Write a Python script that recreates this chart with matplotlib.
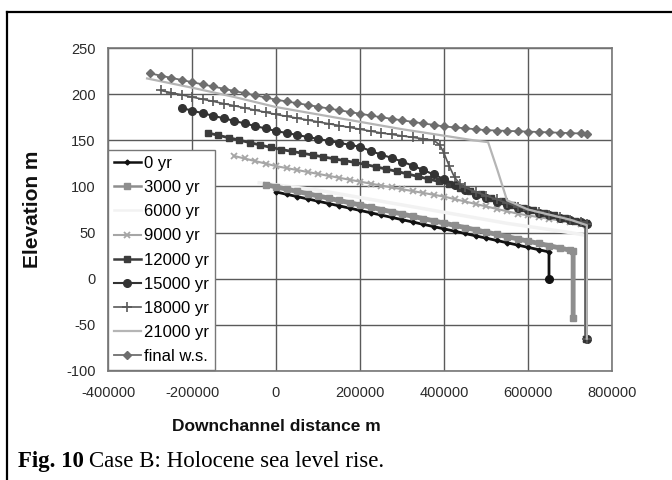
import matplotlib
matplotlib.use("Agg")
import matplotlib.pyplot as plt
from matplotlib.lines import Line2D

# ---------------- data ----------------
x_0yr = [0, 25000, 50000, 75000, 100000, 125000, 150000, 175000, 200000, 225000,
         250000, 275000, 300000, 325000, 350000, 375000, 400000, 425000, 450000,
         475000, 500000, 525000, 550000, 575000, 600000, 625000, 650000, 650000]
y_0yr = [94.0, 91.5, 89.0, 86.5, 84.0, 81.5, 79.0, 76.5, 74.0, 71.5,
         69.0, 66.5, 64.0, 61.5, 59.0, 56.5, 54.0, 51.5, 49.0,
         46.5, 44.0, 41.5, 39.0, 36.5, 34.0, 31.5, 29.0, 0.0]

x_3000 = [-25000, 0, 25000, 50000, 75000, 100000, 125000, 150000, 175000, 200000,
          225000, 250000, 275000, 300000, 325000, 350000, 375000, 400000, 425000,
          450000, 475000, 500000, 525000, 550000, 575000, 600000, 625000, 650000,
          675000, 700000, 707500, 707500]
y_3000 = [102.0, 99.5, 97.1, 94.6, 92.2, 89.7, 87.3, 84.8, 82.4, 79.9,
          77.5, 75.0, 72.6, 70.1, 67.7, 65.2, 62.8, 60.3, 57.9,
          55.4, 53.0, 50.5, 48.1, 45.6, 43.2, 40.7, 38.3, 35.8,
          33.4, 30.9, 30.4, -43.0]

x_6000 = [-40000, 100000, 250000, 400000, 550000, 700000, 737500, 737500]
y_6000 = [104.0, 96.0, 84.0, 72.0, 60.0, 50.0, 47.0, -65.0]

x_9000 = [-100000, -75000, -50000, -25000, 0, 25000, 50000, 75000, 100000, 125000,
          150000, 175000, 200000, 225000, 250000, 275000, 300000, 325000, 350000,
          375000, 400000, 425000, 450000, 475000, 500000, 525000, 550000, 575000,
          600000, 625000, 650000, 675000, 700000, 725000, 737500, 737500]
y_9000 = [133.0, 130.3, 127.5, 124.8, 122.0, 119.9, 117.8, 115.7, 113.6, 111.5,
          109.4, 107.3, 105.2, 103.1, 101.0, 99.0, 97.0, 95.0, 93.0,
          91.0, 89.0, 86.3, 83.7, 81.0, 78.4, 75.7, 73.1, 70.5,
          68.6, 66.8, 64.9, 63.1, 61.2, 59.4, 58.5, -65.0]

x_12000 = [-162500, -137500, -112500, -87500, -62500, -37500, -12500, 12500, 37500,
           62500, 87500, 112500, 137500, 162500, 187500, 212500, 237500, 262500,
           287500, 312500, 337500, 362500, 387500, 412500, 437500, 462500, 487500,
           512500, 537500, 562500, 587500, 612500, 637500, 662500, 687500, 712500,
           737500, 737500]
y_12000 = [158.0, 155.4, 152.8, 150.2, 147.5, 144.9, 142.3, 140.0, 138.0,
           136.0, 134.0, 132.0, 130.0, 128.0, 126.0, 123.8, 121.3, 118.8,
           116.3, 113.6, 110.9, 108.1, 105.4, 102.2, 98.7, 95.3, 92.0,
           88.0, 84.0, 80.0, 77.1, 74.3, 71.4, 68.6, 65.7, 62.9,
           60.0, -65.0]

x_15000 = [-225000, -200000, -175000, -150000, -125000, -100000, -75000, -50000,
           -25000, 0, 25000, 50000, 75000, 100000, 125000, 150000, 175000, 200000,
           225000, 250000, 275000, 300000, 325000, 350000, 375000, 400000, 425000,
           450000, 475000, 500000, 525000, 550000, 575000, 600000, 625000, 650000,
           675000, 700000, 725000, 740000, 740000]
y_15000 = [185.0, 182.2, 179.4, 176.6, 173.9, 171.1, 168.3, 165.5,
           162.8, 160.0, 157.9, 155.8, 153.6, 151.5, 149.4, 147.3, 145.1, 143.0,
           138.5, 134.5, 131.0, 127.0, 122.5, 118.0, 113.0, 108.0, 102.0,
           96.0, 91.0, 87.0, 83.0, 79.5, 76.5, 74.0, 71.0, 68.5,
           66.0, 63.5, 61.0, 59.5, -65.0]

x_18000 = [-275000, -250000, -225000, -200000, -175000, -150000, -125000, -100000,
           -75000, -50000, -25000, 0, 25000, 50000, 75000, 100000, 125000, 150000,
           175000, 200000, 225000, 250000, 275000, 300000, 325000, 350000, 375000,
           390000, 400000, 412500, 425000, 437500, 450000, 475000, 500000, 525000,
           550000, 575000, 600000, 625000, 650000, 675000, 700000, 725000, 740000,
           740000]
y_18000 = [204.0, 201.6, 199.3, 196.9, 194.5, 192.2, 189.8, 187.5,
           185.1, 182.7, 180.4, 178.0, 176.0, 174.0, 172.0, 170.0, 168.0, 166.0,
           164.0, 162.0, 160.0, 158.0, 156.4, 154.8, 153.2, 151.6, 150.0,
           145.0, 136.0, 122.0, 110.0, 103.0, 99.0, 94.0, 90.0, 86.0,
           82.0, 78.0, 75.0, 72.0, 69.0, 67.0, 64.0, 61.0, 59.0,
           -65.0]

x_21000 = [-307000, -200000, -100000, 0, 100000, 200000, 300000, 400000, 470000,
           505000, 527000, 550000, 600000, 700000, 740000, 740000]
y_21000 = [217.0, 207.0, 197.0, 186.0, 178.0, 170.0, 162.0, 155.0, 150.0,
           148.0, 118.0, 85.0, 75.0, 64.0, 58.0, -65.0]

x_final = [-300000, -275000, -250000, -225000, -200000, -175000, -150000, -125000,
           -100000, -75000, -50000, -25000, 0, 25000, 50000, 75000, 100000, 125000,
           150000, 175000, 200000, 225000, 250000, 275000, 300000, 325000, 350000,
           375000, 400000, 425000, 450000, 475000, 500000, 525000, 550000, 575000,
           600000, 625000, 650000, 675000, 700000, 725000, 740000]
y_final = [222.5, 220.1, 217.7, 215.4, 213.0, 210.6, 208.3, 205.9,
           203.5, 201.1, 198.8, 196.4, 194.0, 192.1, 190.2, 188.3, 186.4, 184.5,
           182.6, 180.7, 178.8, 176.9, 175.0, 173.3, 171.7, 170.0, 168.3,
           166.7, 165.0, 164.0, 163.0, 162.0, 161.0, 160.6, 160.2, 159.8,
           159.4, 159.0, 158.6, 158.2, 157.8, 157.4, 157.2]

labels = ["0 yr", "3000 yr", "6000 yr", "9000 yr", "12000 yr",
          "15000 yr", "18000 yr", "21000 yr", "final w.s."]
x_ticks = [-400000, -200000, 0, 200000, 400000, 600000, 800000]
y_ticks = [-100, -50, 0, 50, 100, 150, 200, 250]

# ---------------- figure ----------------
plt.rcParams['font.family'] = ['Liberation Sans', 'DejaVu Sans']
fig = plt.figure(figsize=(6.72, 4.8), dpi=100)
ax = fig.add_axes([108/672, 1-371/480, 504/672, 323/480])

ax.plot(x_0yr, y_0yr, color='#111111', lw=2.0, marker='D', ms=2.5, label=labels[0], zorder=3)
ax.plot(x_0yr[-1:], y_0yr[-1:], color='#111111', marker='o', ms=5.5, ls='none', zorder=3)
ax.plot(x_3000, y_3000, color='#8e8e8e', lw=3.5, marker='s', ms=4, mec='#8e8e8e', label=labels[1], zorder=3)
ax.plot(x_6000, y_6000, color='#f2f2f2', lw=2.5, label=labels[2], zorder=2.5)
ax.plot(x_9000, y_9000, color='#a6a6a6', lw=1.5, marker='x', ms=4.5, mew=1.3, label=labels[3], zorder=3)
ax.plot(x_12000, y_12000, color='#3c3c3c', lw=2.0, marker='s', ms=4, label=labels[4], zorder=3)
ax.plot(x_15000, y_15000, color='#333333', lw=1.5, marker='o', ms=5.5, label=labels[5], zorder=3)
ax.plot(x_18000, y_18000, color='#595959', lw=1.2, marker='+', ms=7, mew=1.2, label=labels[6], zorder=3)
ax.plot(x_21000, y_21000, color='#b5b5b5', lw=1.6, label=labels[7], zorder=3)
ax.plot(x_final, y_final, color='#6e6e6e', lw=1.3, marker='D', ms=4.5, label=labels[8], zorder=3)

ax.set_xlim(x_ticks[0], x_ticks[-1])
ax.set_ylim(y_ticks[0], y_ticks[-1])
ax.set_xticks(x_ticks)
ax.set_yticks(y_ticks)
ax.set_xticklabels([str(v) for v in x_ticks])
ax.set_yticklabels([str(v) for v in y_ticks])
ax.tick_params(length=0, labelsize=10.5, colors='#2a2a2a')
ax.tick_params(axis='x', pad=11)
ax.tick_params(axis='y', pad=9)
ax.grid(True, color='#5a5a5a', lw=1.0)
ax.set_axisbelow(True)
for s in ax.spines.values():
    s.set_color('#777777')
    s.set_linewidth(1.2)

ax.set_xlabel("Downchannel distance m", fontsize=12.5, fontweight='bold', color='#111111')
ax.xaxis.set_label_coords((276-108)/504, -0.15)
ax.set_ylabel("Elevation m", fontsize=15, fontweight='bold', color='#111111')
ax.yaxis.set_label_coords(-0.131, 0.5)

leg = ax.legend(loc='upper left', bbox_to_anchor=(0.0, 0.684), borderaxespad=0,
                fontsize=12, frameon=True, fancybox=False, edgecolor='#777777',
                framealpha=1, handlelength=1.6, handletextpad=0.2,
                labelspacing=0.55, borderpad=0.35)
leg.get_frame().set_linewidth(1.0)
for h in leg.get_lines():
    h.set_linewidth(min(h.get_linewidth(), 1.8))

# page border lines
fig.add_artist(Line2D([7/672, 1], [1-12/480, 1-12/480], color='black', lw=1.6, transform=fig.transFigure))
fig.add_artist(Line2D([7/672, 7/672], [0, 1-12/480], color='black', lw=1.6, transform=fig.transFigure))

# caption
t1 = fig.text(18/672, 1-467/480, "Fig. 10", family='Liberation Serif', fontweight='bold',
              fontsize=16.5, va='baseline', ha='left')
fig.canvas.draw()
bb = t1.get_window_extent(renderer=fig.canvas.get_renderer())
fig.text(bb.x1/672 + 5/672, 1-467/480, "Case B: Holocene sea level rise.", family='Liberation Serif',
         fontsize=16.5, va='baseline', ha='left')

fig.savefig("out.png", dpi=100)
